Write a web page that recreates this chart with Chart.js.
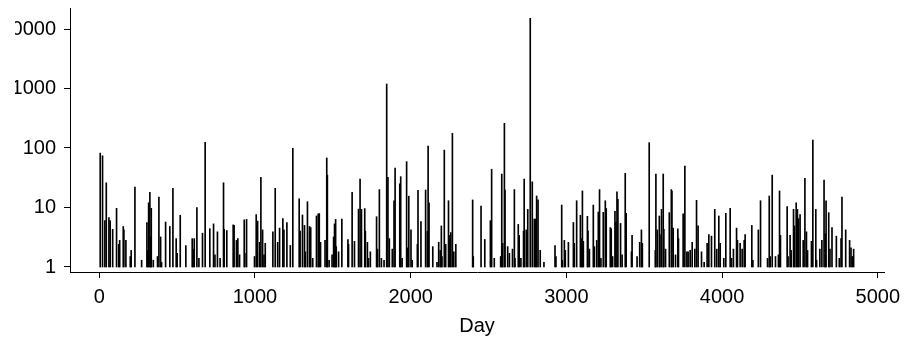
<!DOCTYPE html>
<html>
<head>
<meta charset="utf-8">
<script src="https://cdn.jsdelivr.net/npm/chart.js@4.4.1/dist/chart.umd.min.js"></script>
<style>
html, body { margin: 0; padding: 0; background: #fff; overflow: hidden; }
#wrap { position: absolute; left: -14px; top: 0; width: 922px; height: 343px; }
</style>
</head>
<body>
<div id="wrap"><canvas id="myChart"></canvas></div>
<script>
// day of each spike and its count
var days = [
    6, 21, 36, 45, 62, 70, 86, 111, 125, 131, 154, 158, 171, 199, 205, 229, 272, 306, 311, 317,
    325, 330, 334, 347, 374, 383, 394, 400, 426, 453, 473, 494, 500, 520, 556, 597, 603, 610, 627, 640,
    663, 680, 710, 734, 743, 759, 776, 798, 802, 819, 860, 866, 881, 890, 901, 931, 935, 946, 997, 1008,
    1017, 1030, 1038, 1049, 1058, 1066, 1115, 1130, 1146, 1158, 1179, 1186, 1205, 1227, 1243, 1284, 1290, 1305, 1318, 1324,
    1337, 1350, 1358, 1371, 1395, 1406, 1413, 1421, 1450, 1461, 1465, 1476, 1495, 1505, 1511, 1518, 1522, 1537, 1558, 1597,
    1601, 1624, 1639, 1665, 1675, 1684, 1705, 1709, 1722, 1729, 1741, 1781, 1787, 1799, 1812, 1829, 1846, 1854, 1863, 1882,
    1893, 1900, 1930, 1936, 1945, 1974, 1980, 1988, 2002, 2010, 2043, 2047, 2066, 2096, 2107, 2112, 2118, 2142, 2169, 2180,
    2190, 2197, 2201, 2216, 2225, 2243, 2250, 2258, 2268, 2277, 2290, 2398, 2402, 2452, 2476, 2512, 2520, 2537, 2578, 2585,
    2591, 2602, 2606, 2623, 2634, 2654, 2666, 2670, 2691, 2697, 2708, 2725, 2729, 2742, 2752, 2768, 2781, 2794, 2802, 2809,
    2818, 2832, 2856, 2927, 2933, 2970, 2974, 2987, 2993, 3013, 3045, 3051, 3066, 3090, 3098, 3103, 3109, 3135, 3139, 3148,
    3173, 3180, 3195, 3205, 3213, 3222, 3237, 3250, 3256, 3282, 3288, 3297, 3312, 3318, 3325, 3331, 3348, 3358, 3378, 3384,
    3418, 3422, 3454, 3471, 3482, 3488, 3532, 3571, 3575, 3584, 3597, 3601, 3611, 3622, 3626, 3637, 3661, 3674, 3678, 3686,
    3701, 3716, 3720, 3750, 3761, 3774, 3782, 3795, 3808, 3825, 3836, 3846, 3868, 3885, 3904, 3915, 3932, 3953, 3966, 3979,
    3988, 4011, 4024, 4052, 4061, 4073, 4093, 4099, 4116, 4129, 4142, 4148, 4191, 4198, 4233, 4247, 4292, 4303, 4309, 4322,
    4343, 4362, 4369, 4375, 4418, 4424, 4437, 4444, 4459, 4465, 4476, 4484, 4491, 4501, 4521, 4532, 4542, 4549, 4574, 4583,
    4602, 4607, 4628, 4641, 4655, 4663, 4668, 4685, 4693, 4706, 4734, 4753, 4764, 4770, 4794, 4819, 4828, 4836, 4845
];
var counts = [
    82, 74, 6, 26, 6.8, 6, 4.3, 9.7, 2.4, 2.8, 4.8, 4.2, 2.8, 1.5, 1.9, 22, 1.3, 5.6, 1.9, 12,
    18, 3.2, 9.7, 1.3, 1.5, 15, 3.2, 1.2, 5.7, 4.8, 21, 3, 1.7, 7.4, 2.3, 3, 2, 3, 10, 1.4,
    3.7, 125, 4.4, 5.3, 1.6, 3.9, 1.4, 26, 4.3, 4.1, 5.1, 5, 2.8, 3, 1.6, 6.2, 1.7, 6.3, 1.5, 7.6,
    5.9, 2.6, 32, 4.2, 1.6, 2.5, 3.9, 21, 2.6, 4.5, 6.5, 4.2, 5.6, 2.3, 99, 14, 4, 7.5, 5, 1.8,
    12.5, 4.8, 4.6, 1.4, 7.2, 7.8, 7.9, 2.6, 2.8, 68, 35, 1.3, 1.6, 3.2, 5.3, 6.3, 2.2, 1.8, 6.4, 2.9,
    2.4, 18, 2.7, 9.4, 30, 9.3, 9.6, 4, 2.6, 1.4, 1.8, 7, 2, 20, 1.4, 1.3, 1190, 32, 3, 2,
    13, 46, 25, 33, 1.4, 59, 2.1, 15.5, 4.2, 1.3, 2.4, 19.5, 5.8, 19.7, 4, 108, 12, 2.2, 1.2, 2.6,
    1.9, 4.9, 1.5, 92, 2.4, 13, 3.4, 3.8, 176, 1.8, 2.4, 13.4, 1.5, 10.6, 2.9, 6, 44, 1.4, 1.5, 36.5,
    2.5, 260, 19.7, 2.2, 1.7, 2, 20, 1.4, 5.2, 3.4, 1.4, 4, 30, 4.2, 9.3, 15100, 27, 6.4, 6.4, 15.6,
    13.5, 1.9, 1.2, 2.3, 1.5, 11, 1.3, 2.8, 1.9, 2.6, 5.6, 2.5, 13, 7.4, 3, 19, 2.7, 7.1, 4, 2,
    11, 2.2, 2.8, 8.4, 20, 1.4, 8.3, 13, 9.6, 4.6, 4.4, 1.5, 8.6, 5.7, 18.4, 13.7, 5.4, 1.6, 37.6, 8,
    1.8, 3.4, 1.5, 2.6, 4.2, 2.5, 123, 1.9, 36.5, 4.2, 7.2, 3.5, 9.3, 36.5, 4.3, 2, 8.2, 20, 18.8, 4.5,
    1.6, 4.4, 3, 7.8, 49.6, 1.8, 1.8, 1.9, 2.6, 2, 13.2, 4.9, 1.8, 1.2, 2.5, 3.5, 3.3, 9.3, 2, 7.2,
    2.5, 1.4, 8, 9.7, 1.4, 2, 4.5, 2.8, 2.5, 2, 2.8, 3.5, 5, 1.3, 4.2, 13, 1.4, 15.6, 1.5, 35,
    1.5, 1.6, 19, 3.4, 10.4, 1.5, 3.4, 1.9, 9.3, 4.9, 12, 9.3, 6.5, 7.6, 2.8, 31, 3.9, 1.9, 2.7, 136,
    9.3, 1.3, 2, 2.8, 29, 3.6, 13, 8.2, 2, 4.6, 3.3, 1.4, 3, 15, 4.2, 2.8, 2.1, 1.5, 2
];
var xTicks = [0, 1000, 2000, 3000, 4000, 5000];
var yTicks = [1, 10, 100, 1000, 10000];

Chart.defaults.font.family = "'Liberation Sans', Arial, sans-serif";
Chart.defaults.color = '#000';

var points = days.map(function (d, i) {
    return { x: d, y: [1, counts[i]] };
});

// the original cuts off the left edge of the widest y labels
var leftClip = {
    id: 'leftClip',
    beforeDraw: function (chart) {
        var c = chart.ctx;
        c.save();
        c.beginPath();
        c.rect(29, 0, chart.width, chart.height);
        c.clip();
    },
    afterDraw: function (chart) {
        chart.ctx.restore();
    }
};

var ctx = document.getElementById('myChart').getContext('2d');
var myChart = new Chart(ctx, {
    type: 'bar',
    data: {
        datasets: [{
            data: points,
            backgroundColor: '#000',
            borderWidth: 0,
            barThickness: 1
        }]
    },
    plugins: [leftClip],
    options: {
        responsive: true,
        maintainAspectRatio: false,
        animation: false,
        layout: {
            padding: { left: 0, right: 24, top: 8, bottom: 0 }
        },
        plugins: {
            legend: { display: false },
            tooltip: { enabled: false }
        },
        scales: {
            x: {
                type: 'linear',
                offset: false,
                min: -188,
                max: 5040,
                afterBuildTicks: function (s) {
                    s.ticks = xTicks.map(function (v) { return { value: v }; });
                },
                afterFit: function (s) {
                    s.height = 71;
                    s.paddingLeft = 0;
                    s.paddingRight = 0;
                },
                ticks: {
                    font: { size: 20 },
                    padding: 7,
                    maxRotation: 0,
                    autoSkip: false,
                    callback: function (v) { return String(v); }
                },
                grid: {
                    display: true,
                    offset: false,
                    drawOnChartArea: false,
                    tickLength: 6,
                    color: '#000'
                },
                border: { display: true, color: '#000' },
                title: {
                    display: true,
                    text: 'Day',
                    font: { size: 20 },
                    padding: { top: 0, bottom: 5 }
                }
            },
            y: {
                type: 'logarithmic',
                min: 0.824,
                max: 22540,
                afterBuildTicks: function (s) {
                    s.ticks = yTicks.map(function (v) { return { value: v }; });
                },
                afterFit: function (s) {
                    s.width = 84;
                    s.paddingTop = 0;
                    s.paddingBottom = 0;
                },
                ticks: {
                    font: { size: 20 },
                    padding: 8,
                    autoSkip: false,
                    callback: function (v) { return String(v); }
                },
                grid: {
                    display: true,
                    drawOnChartArea: false,
                    tickLength: 6,
                    color: '#000'
                },
                border: { display: true, color: '#000' }
            }
        }
    }
});
</script>
</body>
</html>
